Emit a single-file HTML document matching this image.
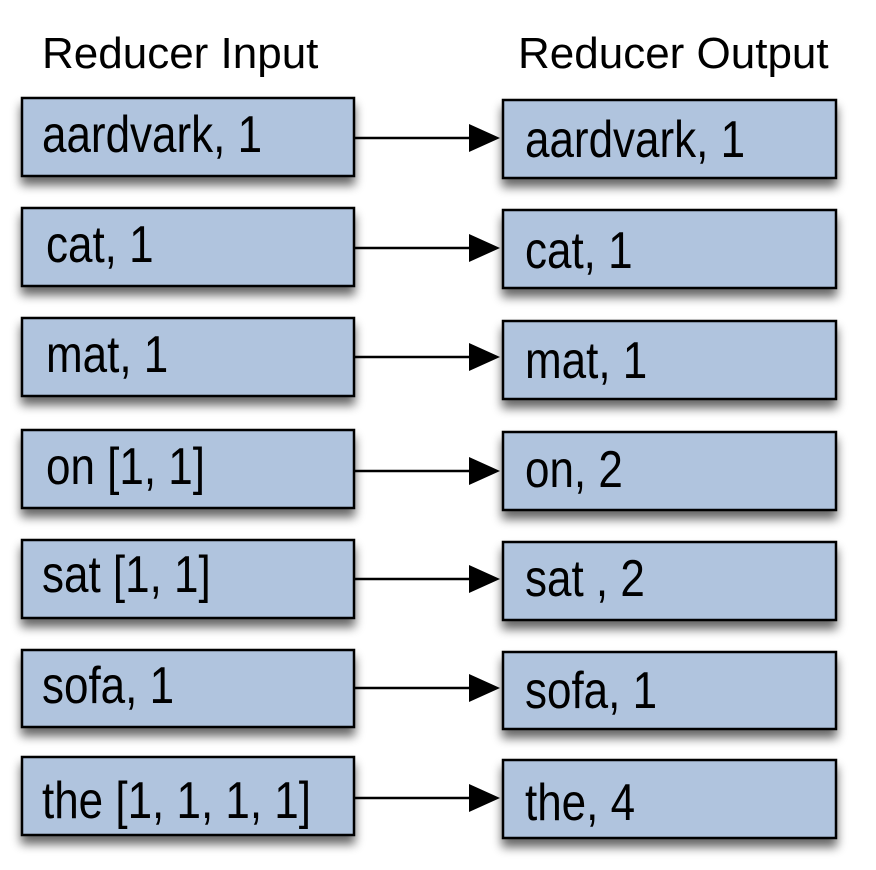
<!DOCTYPE html>
<html><head><meta charset="utf-8"><style>
html,body{margin:0;padding:0;background:#fff;}
svg{display:block;}
text{font-family:"Liberation Sans",Arial,sans-serif;fill:#000;}
</style></head><body>
<svg width="876" height="870" viewBox="0 0 876 870" xmlns="http://www.w3.org/2000/svg">
<defs>
<filter id="sh" x="-10%" y="-20%" width="120%" height="160%">
<feGaussianBlur in="SourceAlpha" stdDeviation="5"/>
<feOffset dx="0" dy="8" result="b"/>
<feComponentTransfer><feFuncA type="linear" slope="0.6"/></feComponentTransfer>
<feMerge><feMergeNode/><feMergeNode in="SourceGraphic"/></feMerge>
</filter>
</defs>
<text x="42" y="68" font-size="44">Reducer Input</text>
<text x="518" y="68" font-size="44">Reducer Output</text>
<g id="rows" stroke="#000" stroke-width="2.5" fill="#b0c4de">
<rect x="22" y="98" width="332" height="78" filter="url(#sh)"/>
<rect x="503" y="100" width="333" height="78" filter="url(#sh)"/>
<rect x="22" y="208" width="332" height="78" filter="url(#sh)"/>
<rect x="503" y="210" width="333" height="78" filter="url(#sh)"/>
<rect x="22" y="318" width="332" height="78" filter="url(#sh)"/>
<rect x="503" y="321" width="333" height="78" filter="url(#sh)"/>
<rect x="22" y="430" width="332" height="78" filter="url(#sh)"/>
<rect x="503" y="432" width="333" height="78" filter="url(#sh)"/>
<rect x="22" y="540" width="332" height="78" filter="url(#sh)"/>
<rect x="503" y="542" width="333" height="78" filter="url(#sh)"/>
<rect x="22" y="650" width="332" height="77" filter="url(#sh)"/>
<rect x="503" y="652" width="333" height="77" filter="url(#sh)"/>
<rect x="22" y="757" width="332" height="78" filter="url(#sh)"/>
<rect x="503" y="760" width="333" height="78" filter="url(#sh)"/>
</g>
<g stroke="#000" stroke-width="2.5">
<line x1="354" y1="138" x2="472" y2="138"/>
<line x1="354" y1="248" x2="472" y2="248"/>
<line x1="354" y1="357" x2="472" y2="357"/>
<line x1="354" y1="471" x2="472" y2="471"/>
<line x1="354" y1="579" x2="472" y2="579"/>
<line x1="354" y1="688" x2="472" y2="688"/>
<line x1="354" y1="798" x2="472" y2="798"/>
</g>
<g fill="#000">
<polygon points="469,124 500,138 469,152"/>
<polygon points="469,234 500,248 469,262"/>
<polygon points="469,343 500,357 469,371"/>
<polygon points="469,457 500,471 469,485"/>
<polygon points="469,565 500,579 469,593"/>
<polygon points="469,674 500,688 469,702"/>
<polygon points="469,784 500,798 469,812"/>
</g>
<g font-size="44">
<text transform="translate(42,152) scale(1,1.18)">aardvark, 1</text>
<text transform="translate(525,157) scale(1,1.18)">aardvark, 1</text>
<text transform="translate(46,262) scale(1,1.18)">cat, 1</text>
<text transform="translate(525,268) scale(1,1.18)">cat, 1</text>
<text transform="translate(46,372) scale(1,1.18)">mat, 1</text>
<text transform="translate(525,378) scale(1,1.18)">mat, 1</text>
<text transform="translate(46,484) scale(1,1.18)">on [1, 1]</text>
<text transform="translate(525,487) scale(1,1.18)">on, 2</text>
<text transform="translate(42,592) scale(1,1.18)">sat [1, 1]</text>
<text transform="translate(525,596) scale(1,1.18)">sat , 2</text>
<text transform="translate(42,703) scale(1,1.18)">sofa, 1</text>
<text transform="translate(525,708) scale(1,1.18)">sofa, 1</text>
<text transform="translate(42,818) scale(1,1.18)">the [1, 1, 1, 1]</text>
<text transform="translate(525,820) scale(1,1.18)">the, 4</text>
</g>
</svg>
</body></html>
